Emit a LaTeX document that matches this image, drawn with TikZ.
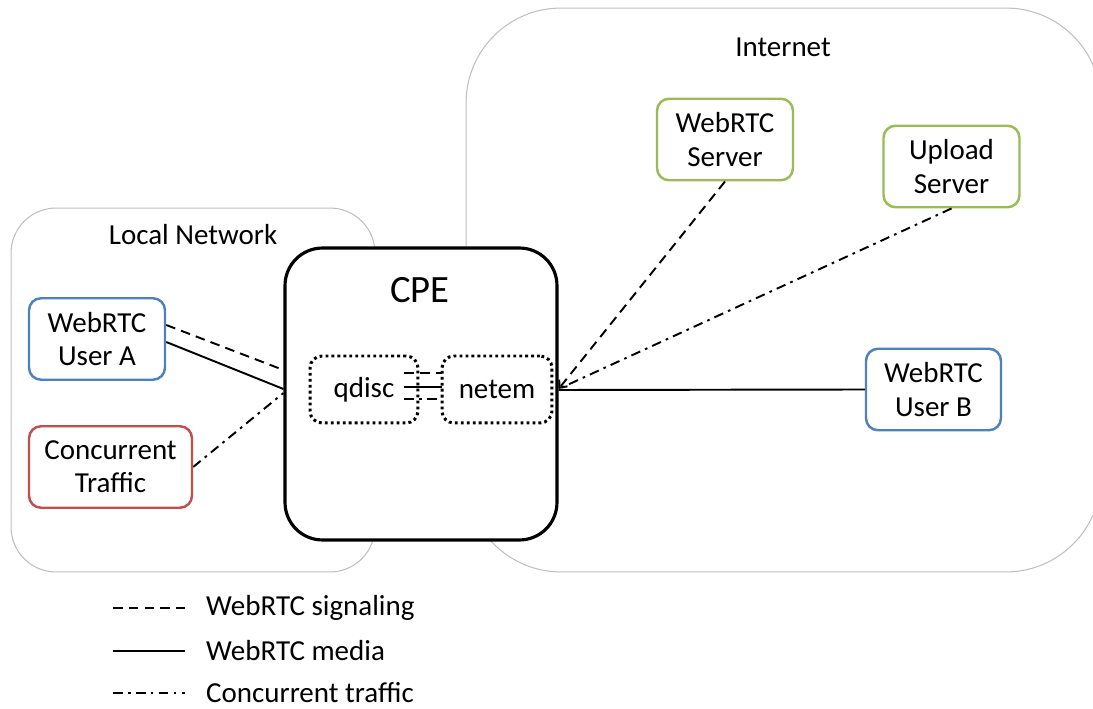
\documentclass[tikz,border=0pt]{standalone}
\usepackage{fontspec}
\setmainfont{Carlito}
\usetikzlibrary{calc,arrows.meta}
\definecolor{userblue}{RGB}{79,129,189}
\definecolor{trafficred}{RGB}{192,80,77}
\definecolor{servergreen}{RGB}{155,187,89}
\definecolor{zonegray}{RGB}{191,191,191}

\begin{document}
\begin{tikzpicture}[x=0.02cm, y=-0.02cm]
      \tikzset{Zone/.style = {draw = zonegray,
          line width = 0.6pt,
          rounded corners = 0.9cm},
        Host/.style = {draw,
          fill = white,
          line width = 1.4pt,
          rounded corners = 0.24cm,
          minimum width = 2.72cm,
          minimum height = 1.63cm,
          align = center,
          font = \fontsize{16.5}{19}\selectfont},
        Part/.style = {draw,
          line width = 1.7pt,
          dash pattern = on 1.6pt off 1.8pt,
          rounded corners = 0.24cm,
          minimum height = 1.34cm,
          font = \fontsize{16.5}{19}\selectfont},
        Txt/.style = {font = \fontsize{16.5}{19}\selectfont},
        Signal/.style = {line width = 1.1pt, dash pattern = on 5.5pt off 3.5pt},
        Media/.style = {line width = 1.1pt},
        Cross/.style = {line width = 1.1pt,
          dash pattern = on 5.5pt off 3pt on 1.5pt off 3pt}}
      \useasboundingbox (0,0) rectangle (1093,709);
      % network zones
      \node[Zone, minimum width = 7.28cm, minimum height = 7.28cm] (local) at (193,390) {};
      \node[Zone, rounded corners = 1.9cm, minimum width = 12.7cm,
            minimum height = 11.28cm] (inet) at (783.5,290) {};
      \node[Txt] (localLbl) at (193,235) {Local Network};
      \node[Txt] (inetLbl) at (783,47) {Internet};
      % router
      \node[draw, fill = white, line width = 1.8pt, rounded corners = 0.75cm,
            minimum width = 5.44cm, minimum height = 5.84cm] (CPE) at (421,394) {};
      \node[font = \fontsize{22}{26}\selectfont] (cpeLbl) at (420,290) {CPE};
      \node[Part, minimum width = 2.16cm] (qdisc) at (364,389.5) {qdisc};
      \node[Part, minimum width = 2.2cm] (netem) at (497,389.5) {netem};
      % hosts
      \node[Host, draw = userblue] (UserA) at (97,339) {WebRTC\\User A};
      \node[Host, draw = trafficred, minimum width = 3.26cm] (Traffic) at (110.5,467)
            {Concurrent\\Traffic};
      \node[Host, draw = servergreen] (WebSrv) at (725,139.5) {WebRTC\\Server};
      \node[Host, draw = servergreen] (UpSrv) at (951.5,166.5) {Upload\\Server};
      \node[Host, draw = userblue, minimum width = 2.7cm] (UserB) at (933.5,389.5)
            {WebRTC\\User B};
      % links
      \draw[Signal] ($(UserA.east)+(0,-14)$) -- ($(CPE.west)+(0,-24)$);
      \draw[Media] ($(UserA.east)+(0,3)$) -- ($(CPE.west)+(0,-5)$);
      \draw[Cross] (Traffic.east) -- ($(CPE.west)+(0,-1)$);
      \draw[Signal, -{Straight Barb[length=3.5pt, width=6pt]}] (WebSrv.south)
            -- ($(CPE.east)+(0,-5)$);
      \draw[Cross] (UpSrv.south) -- ($(CPE.east)+(0,-5)$);
      \draw[Media] (UserB.west) -- ($(CPE.east)+(0,-4)$);
      \draw[Signal] ($(qdisc.east)+(-15,-16.5)$) -- ($(netem.west)+(1,-16.5)$);
      \draw[Media] ($(qdisc.east)+(-15,-2.5)$) -- ($(netem.west)+(1,-2.5)$);
      \draw[Cross] ($(qdisc.east)+(-15,9.5)$) -- ($(netem.west)+(1,9.5)$);
      % legend
      \coordinate (sigA) at (113,608);
      \coordinate (medA) at (113,651);
      \coordinate (crsA) at (113,693);
      \node[Txt, anchor = west] (sigLbl) at (200,608) {WebRTC signaling};
      \node[Txt, anchor = west] (medLbl) at (200,651) {WebRTC media};
      \node[Txt, anchor = west] (crsLbl) at (200,693) {Concurrent traffic};
      \draw[Signal] (sigA) -- ($(sigLbl.west)+(-15,0)$);
      \draw[Media] (medA) -- ($(medLbl.west)+(-15,0)$);
      \draw[Cross] (crsA) -- ($(crsLbl.west)+(-15,0)$);
    \end{tikzpicture}
\end{document}
